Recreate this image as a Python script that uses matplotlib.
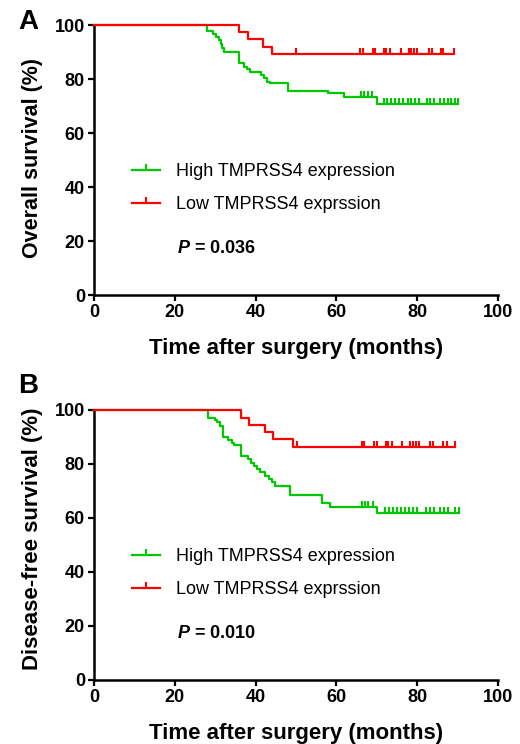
import numpy as np
import matplotlib
matplotlib.use('Agg')
import matplotlib.pyplot as plt

plt.rcParams['font.family'] = ['Liberation Sans', 'DejaVu Sans']
plt.rcParams['mathtext.fontset'] = 'custom'
plt.rcParams['mathtext.it'] = 'Liberation Sans:italic:bold'
plt.rcParams['mathtext.rm'] = 'Liberation Sans:bold'

GREEN = '#00c800'
RED = '#ff0000'

# ---- Panel A: overall survival ----
a_high_t = [0, 27.9, 29.5, 30.3, 31.0, 31.4, 31.8, 32.2, 35.8, 37.2, 37.9, 38.7,
            41.3, 42.0, 42.8, 43.6, 48.1, 58.0, 61.9, 70.0]
a_high_s = [100, 97.9, 96.7, 95.7, 94.3, 92.9, 91.4, 90.1, 85.8, 84.6, 83.6, 82.7,
            81.5, 80.2, 79.0, 78.4, 75.7, 74.7, 73.3, 70.8]
a_high_cens = [66.0, 66.8, 67.8, 68.8, 71.8, 72.6, 73.6, 74.6, 75.6, 76.6, 77.6, 78.5,
               79.5, 80.4, 82.4, 83.2, 84.2, 85.6, 86.6, 87.5, 88.4, 89.3, 90.2]
a_low_t = [0, 35.9, 38.0, 41.8, 44.0]
a_low_s = [100, 97.3, 94.7, 92.0, 89.4]
a_low_cens = [50.0, 65.8, 66.5, 69.0, 69.6, 71.8, 72.4, 73.3, 75.9, 77.9, 78.5, 79.2,
              80.0, 82.8, 83.7, 85.8, 86.4, 89.1]

# ---- Panel B: disease-free survival ----
b_high_t = [0, 28.3, 29.9, 30.5, 31.2, 32.0, 33.2, 34.1, 34.6, 36.4, 38.0, 38.8, 39.6,
            40.4, 41.2, 42.3, 43.2, 44.0, 44.8, 48.4, 56.4, 58.4, 70.1]
b_high_s = [100, 97.2, 96.3, 95.4, 94.2, 90.1, 88.9, 87.7, 87.0, 83.0, 81.7, 80.5, 79.3,
            78.1, 76.9, 75.6, 74.4, 73.2, 72.0, 68.5, 65.4, 64.2, 61.7]
b_high_cens = [66.3, 67.1, 67.9, 69.1, 72.0, 73.0, 73.9, 74.9, 75.9, 77.0, 78.0, 79.0,
               80.0, 82.2, 83.2, 84.2, 85.6, 86.6, 87.7, 89.4, 90.4]
b_low_t = [0, 36.3, 38.4, 42.3, 44.2, 49.2]
b_low_s = [100, 97.2, 94.5, 91.8, 89.1, 86.4]
b_low_cens = [50.3, 66.3, 66.9, 69.4, 70.0, 72.2, 72.8, 73.7, 76.2, 78.2, 78.9, 79.6,
              80.4, 83.2, 84.0, 86.5, 87.3, 89.4]

labels = ['High TMPRSS4 expression', 'Low TMPRSS4 exprssion']
x_ticks = [0, 20, 40, 60, 80, 100]
y_ticks = [0, 20, 40, 60, 80, 100]

# censor tick: short vertical stroke going up from the curve
TICK = [(0, 0), (0, 1)]


def plot_km(ax, t, s, cens, color):
    t = np.array(t, dtype=float)
    s = np.array(s, dtype=float)
    cens = np.array(cens, dtype=float)
    end = max(t[-1], cens.max())
    ax.step(np.append(t, end), np.append(s, s[-1]), where='post',
            color=color, lw=1.6, clip_on=False, zorder=3)
    lev = s[np.searchsorted(t, cens, side='right') - 1]
    ax.plot(cens, lev, ls='none', marker=TICK, ms=9, mew=1.5, mec=color,
            mfc='none', clip_on=False, zorder=3)


def style_axes(ax, ylabel, ylab_y, ylab_size, letter, letter_y, pval):
    ax.set_xlim(0, 100)
    ax.set_ylim(0, 100)
    ax.set_xticks(x_ticks)
    ax.set_yticks(y_ticks)
    for side in ['top', 'right']:
        ax.spines[side].set_visible(False)
    for side in ['left', 'bottom']:
        ax.spines[side].set_linewidth(1.8)
    ax.tick_params(direction='out', length=4.5, width=1.6, pad=2, labelsize=13)
    for lab in ax.get_xticklabels() + ax.get_yticklabels():
        lab.set_fontweight('bold')
    ax.set_xlabel('Time after surgery (months)', fontsize=16, fontweight='bold')
    ax.xaxis.set_label_coords(0.5, -0.158)
    ax.set_ylabel(ylabel, fontsize=ylab_size, fontweight='bold', va='center')
    ax.yaxis.set_label_coords(-0.153, ylab_y)
    ax.text(-0.163, letter_y, letter, transform=ax.transAxes, fontsize=20,
            fontweight='bold', ha='center', va='center')
    handles = [plt.Line2D([], [], color=GREEN, lw=1.6, marker=TICK, ms=9, mew=1.5),
               plt.Line2D([], [], color=RED, lw=1.6, marker=TICK, ms=9, mew=1.5)]
    ax.legend(handles, labels, loc='upper left', bbox_to_anchor=(0.093, 0.489),
              frameon=False, fontsize=13, handlelength=1.55, handletextpad=0.9,
              labelspacing=0.9, borderpad=0, borderaxespad=0, numpoints=1)
    ax.text(0.205, 0.173, r'$P$ = ' + pval, transform=ax.transAxes, fontsize=13,
            fontweight='bold', ha='left', va='center')


fig = plt.figure(figsize=(5.2, 7.44), dpi=100)
axA = fig.add_axes([94 / 520, 1 - 295 / 744, 404 / 520, 270 / 744])
axB = fig.add_axes([94 / 520, 1 - 680 / 744, 404 / 520, 270 / 744])

plot_km(axA, a_high_t, a_high_s, a_high_cens, GREEN)
plot_km(axA, a_low_t, a_low_s, a_low_cens, RED)
style_axes(axA, 'Overall survival (%)', 0.509, 15.5, 'A', 1.011, '0.036')

plot_km(axB, b_high_t, b_high_s, b_high_cens, GREEN)
plot_km(axB, b_low_t, b_low_s, b_low_cens, RED)
style_axes(axB, 'Disease-free survival (%)', 0.522, 16, 'B', 1.09, '0.010')

fig.savefig('out.png', dpi=100)
